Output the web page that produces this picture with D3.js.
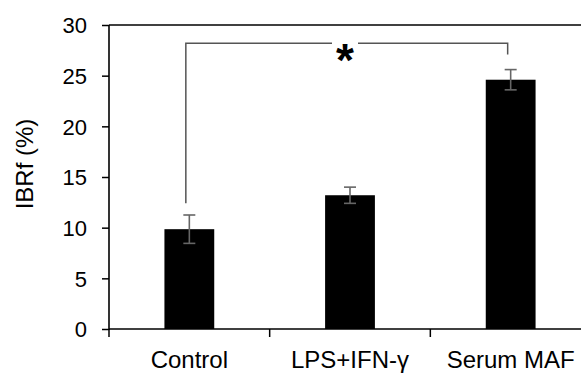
<!DOCTYPE html>
<html><head><meta charset="utf-8">
<script src="https://cdn.jsdelivr.net/npm/d3@7"></script>
<style>body{margin:0;background:#fff}svg{display:block}text{font-family:"Liberation Sans",Arial,sans-serif}</style>
</head><body><svg id="c" width="581" height="373"></svg>
<script>
const categories = ["Control", "LPS+IFN-γ", "Serum MAF"];
const values = [9.85, 13.2, 24.6];
const errors = [1.4, 0.8, 1.0];
const yTicks = [0, 5, 10, 15, 20, 25, 30];
const sigPair = ["Control", "Serum MAF"];
const sigLevel = 28.2;

(function(){
const svg = d3.select("#c");
const pl = 109, pr = 591, pt = 25, pb = 329;
const x = d3.scaleBand().domain(categories).range([pl, pr]).padding(0);
const y = d3.scaleLinear().domain([0, 30]).range([pb, pt]);
const bw = x.bandwidth() * 0.31;

// bars
svg.selectAll("rect.bar").data(categories).enter().append("rect")
  .attr("x", d => x(d) + x.bandwidth()/2 - bw/2)
  .attr("width", bw)
  .attr("y", (d,i) => y(values[i]))
  .attr("height", (d,i) => y(0) - y(values[i]))
  .attr("fill", "#000");

// error bars
const eg = svg.append("g").attr("stroke", "#666").attr("stroke-width", 1.6);
categories.forEach((c, i) => {
  const cx = x(c) + x.bandwidth()/2;
  eg.append("line").attr("x1", cx).attr("x2", cx).attr("y1", y(values[i]+errors[i])).attr("y2", y(values[i]-errors[i]));
  eg.append("line").attr("x1", cx-6).attr("x2", cx+6).attr("y1", y(values[i]+errors[i])).attr("y2", y(values[i]+errors[i]));
  eg.append("line").attr("x1", cx-6).attr("x2", cx+6).attr("y1", y(values[i]-errors[i])).attr("y2", y(values[i]-errors[i]));
});

// axes
const yAxis = d3.axisLeft(y).tickValues(yTicks).tickSize(7).tickPadding(15);
const gy = svg.append("g").attr("transform", `translate(${pl},0)`).call(yAxis);
gy.select(".domain").remove();
gy.selectAll(".tick line").attr("stroke", "#000").attr("stroke-width", 1.5);
gy.selectAll(".tick text").attr("font-size", 22).attr("fill", "#000").attr("dy", "0.36em").style("font-family", "Liberation Sans, Arial, sans-serif");

svg.append("line").attr("x1", pl).attr("x2", pl).attr("y1", pt).attr("y2", pb+1).attr("stroke", "#000").attr("stroke-width", 1.6);
svg.append("line").attr("x1", pl).attr("x2", 581).attr("y1", pb).attr("y2", pb).attr("stroke", "#000").attr("stroke-width", 1.6);
svg.append("line").attr("x1", pl).attr("x2", 581).attr("y1", pt).attr("y2", pt).attr("stroke", "#000").attr("stroke-width", 1.6);

// x ticks at band edges
categories.forEach(c => {
  const ex = x(c);
  svg.append("line").attr("x1", ex).attr("x2", ex).attr("y1", pb).attr("y2", pb+8).attr("stroke", "#000").attr("stroke-width", 1.5);
});
svg.selectAll("text.xl").data(categories).enter().append("text")
  .attr("x", d => x(d) + x.bandwidth()/2)
  .attr("y", 368)
  .attr("text-anchor", "middle")
  .attr("font-size", 24)
  .text(d => d);

// y title
svg.append("text").attr("transform", "translate(33,164) rotate(-90)")
  .attr("text-anchor", "middle").attr("font-size", 24).text("IBRf (%)");

// significance bracket
const x1 = x(sigPair[0]) + x.bandwidth()/2 - 3.5;
const x2 = x(sigPair[1]) + x.bandwidth()/2 - 3;
const yb = y(sigLevel);
const sx = 345;
const bg = svg.append("g").attr("stroke", "#555").attr("stroke-width", 1.5).attr("fill", "none");
bg.append("path").attr("d", `M${x1},${y(12.4)}V${yb}H${sx-13}`);
bg.append("path").attr("d", `M${sx+13},${yb}H${x2}V${y(27.1)}`);
svg.append("text").attr("x", sx).attr("y", 76).attr("text-anchor", "middle")
  .attr("font-size", 46).attr("font-weight", "bold").text("*");
})();
</script></body></html>
